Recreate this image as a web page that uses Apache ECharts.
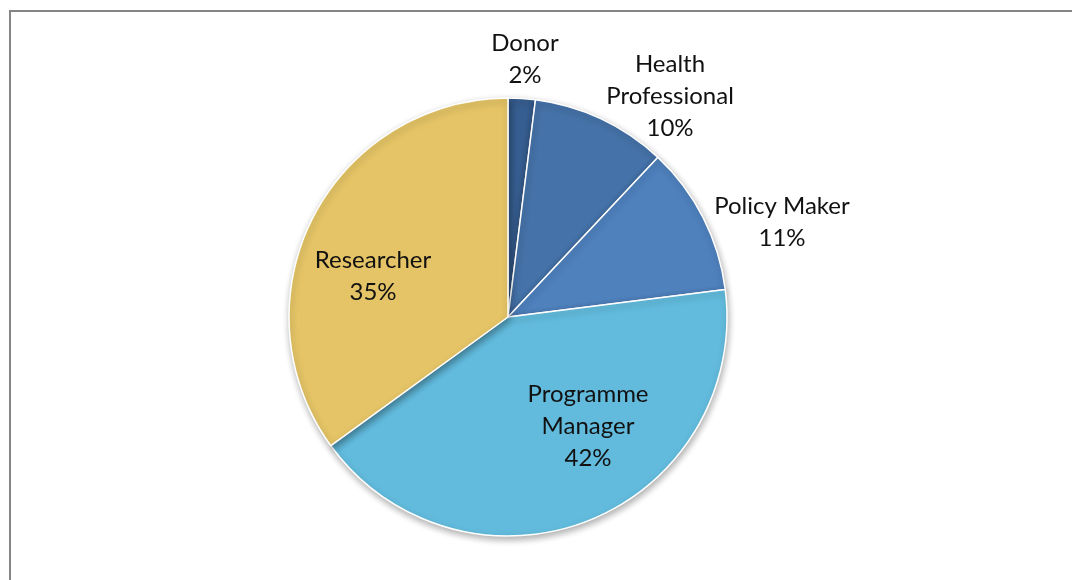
<!DOCTYPE html>
<html>
<head>
<meta charset="utf-8">
<script src="https://cdn.jsdelivr.net/npm/echarts@6/dist/echarts.min.js"></script>
<style>
  html, body { margin: 0; padding: 0; background: #fff; }
  #wrap { position: relative; width: 1072px; height: 580px; overflow: hidden; }
  #frame { position: absolute; left: 9px; top: 10px; width: 1200px; height: 700px;
           border-left: 2px solid #858585; border-top: 2px solid #858585; }
  #chart { position: absolute; left: 0; top: 0; width: 1072px; height: 580px; }
</style>
</head>
<body>
<div id="wrap">
  <div id="frame"></div>
  <div id="chart"></div>
</div>
<script>
// Respondent roles (share of respondents, %)
const categories = ['Donor', 'Health Professional', 'Policy Maker', 'Programme Manager', 'Researcher'];
const values = [2, 10, 11, 42, 35];
const colors = ['#375e90', '#4572a8', '#4f81bd', '#62bbdd', '#e4c466'];

// Roles whose label is split over two lines
const wrapped = ['Health Professional', 'Programme Manager'];

// Label centres for each slice (pixels)
const labelCentres = [
  [525, 59],
  [670, 96],
  [782, 222],
  [588, 426],
  [373, 276]
];

const chart = echarts.init(document.getElementById('chart'), null, { renderer: 'canvas' });

chart.setOption({
  animation: false,
  series: [{
    type: 'pie',
    center: [508, 317],
    radius: 219,
    startAngle: 90,
    clockwise: true,
    percentPrecision: 0,
    data: categories.map((name, i) => ({
      name: name,
      value: values[i],
      itemStyle: { color: colors[i] }
    })),
    itemStyle: {
      borderColor: '#ffffff',
      borderWidth: 1.5,
      shadowBlur: 7,
      shadowOffsetX: 1,
      shadowOffsetY: 3,
      shadowColor: 'rgba(0,0,0,0.32)'
    },
    label: {
      show: true,
      position: 'inside',
      color: '#111',
      fontFamily: 'Lato, "Open Sans", sans-serif',
      fontSize: 24,
      lineHeight: 32,
      align: 'center',
      formatter: p => (wrapped.includes(p.name) ? p.name.replace(' ', '\n') : p.name) + '\n' + p.percent + '%'
    },
    labelLine: { show: false },
    labelLayout: p => ({
      x: labelCentres[p.dataIndex][0],
      y: labelCentres[p.dataIndex][1],
      align: 'center',
      verticalAlign: 'middle'
    }),
    emphasis: { disabled: true }
  }]
});
</script>
</body>
</html>
